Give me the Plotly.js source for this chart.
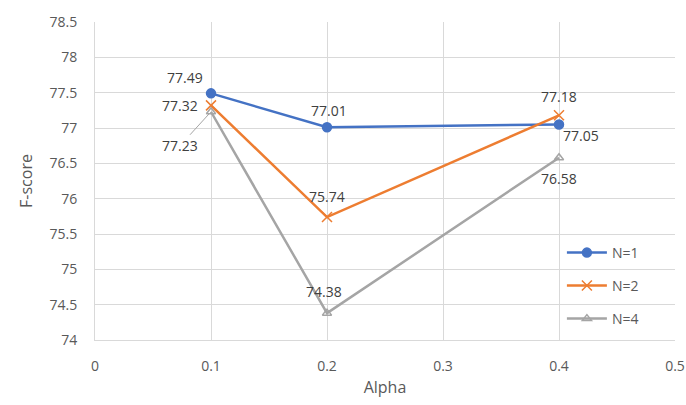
<!DOCTYPE html>
<html><head><meta charset="utf-8">
<script src="https://cdn.plot.ly/plotly-3.0.1.min.js"></script>
<style>html,body{margin:0;padding:0;background:#fff}#chart{width:686px;height:405px}</style>
</head><body><div id="chart"></div>
<script>
const alpha = [0.1, 0.2, 0.4];
const seriesNames = ["N=1", "N=2", "N=4"];
const n1 = [77.49, 77.01, 77.05];
const n2 = [77.32, 75.74, 77.18];
const n4 = [77.23, 74.38, 76.58];
const xTicks = [0, 0.1, 0.2, 0.3, 0.4, 0.5];
const yTicks = [74, 74.5, 75, 75.5, 76, 76.5, 77, 77.5, 78, 78.5];

const colors = ["#4472C4", "#ED7D31", "#A5A5A5"];
const symbols = ["circle", "x-thin-open", "triangle-up-open"];
const sizes = [9, 10, 8];
const values = [n1, n2, n4];
// label pixel offsets per point
const offsets = [
  [[-26,-16],[2,-17],[22,11]],
  [[-31,0],[0,-21],[0,-19]],
  [[-31,34],[-3,-22],[0,21]]
];
const font = "Open Sans, Liberation Sans, sans-serif";
const txt = "#595959";

const traces = values.map((v,i)=>({
  x: alpha, y: v, type: "scatter", mode: "lines+markers", name: seriesNames[i],
  line: {color: colors[i], width: 2.5},
  marker: {symbol: symbols[i], size: sizes[i], color: colors[i], line: {color: colors[i], width: 1.5}},
  legend: i===0 ? "legend" : ("legend" + (i+1))
}));

const annotations = [];
values.forEach((v,i)=>{
  v.forEach((val,j)=>{
    const leader = (i===2 && j===0);
    annotations.push({
      x: alpha[j], y: val, xref: "x", yref: "y",
      text: val.toFixed(2), showarrow: true, arrowhead: 0,
      arrowwidth: leader ? 1 : 0.01,
      arrowcolor: leader ? "#A5A5A5" : "rgba(0,0,0,0)",
      ax: offsets[i][j][0], ay: offsets[i][j][1],
      standoff: leader ? 2 : 0,
      font: {family: font, size: 14, color: "#404040"}
    });
  });
});

const legendY = [0.2736, 0.170, 0.066];
const mkLegend = (k)=>({
  x: 0.805, y: legendY[k], xanchor: "left", yanchor: "middle",
  itemwidth: 40,
  bgcolor: "rgba(0,0,0,0)", font: {family: font, size: 14, color: txt}
});

const layout = {
  width: 686, height: 405,
  margin: {l: 95, r: 11, t: 22, b: 65},
  paper_bgcolor: "#fff", plot_bgcolor: "#fff",
  font: {family: font, color: txt, size: 14},
  showlegend: true,
  legend: mkLegend(0), legend2: mkLegend(1), legend3: mkLegend(2),
  xaxis: {
    range: [0, 0.5], tickvals: xTicks, ticktext: xTicks.map(String),
    showgrid: true, gridcolor: "#D9D9D9", gridwidth: 1,
    zeroline: false, showline: true, linecolor: "#D9D9D9", mirror: false,
    ticks: "outside", ticklen: 13, tickcolor: "rgba(0,0,0,0)",
    tickfont: {family: font, size: 14, color: txt},
    title: {text: "Alpha", font: {family: font, size: 16, color: txt}, standoff: 8}
  },
  yaxis: {
    range: [74, 78.5], tickvals: yTicks, ticktext: yTicks.map(String),
    showgrid: true, gridcolor: "#D9D9D9", gridwidth: 1,
    zeroline: false, showline: true, linecolor: "#D9D9D9",
    ticks: "outside", ticklen: 14, tickcolor: "rgba(0,0,0,0)",
    tickfont: {family: font, size: 14, color: txt},
    title: {text: "F-score", font: {family: font, size: 16, color: txt}, standoff: 12}
  },
  annotations: annotations
};

Plotly.newPlot("chart", traces, layout, {staticPlot: true, displayModeBar: false});
</script></body></html>
